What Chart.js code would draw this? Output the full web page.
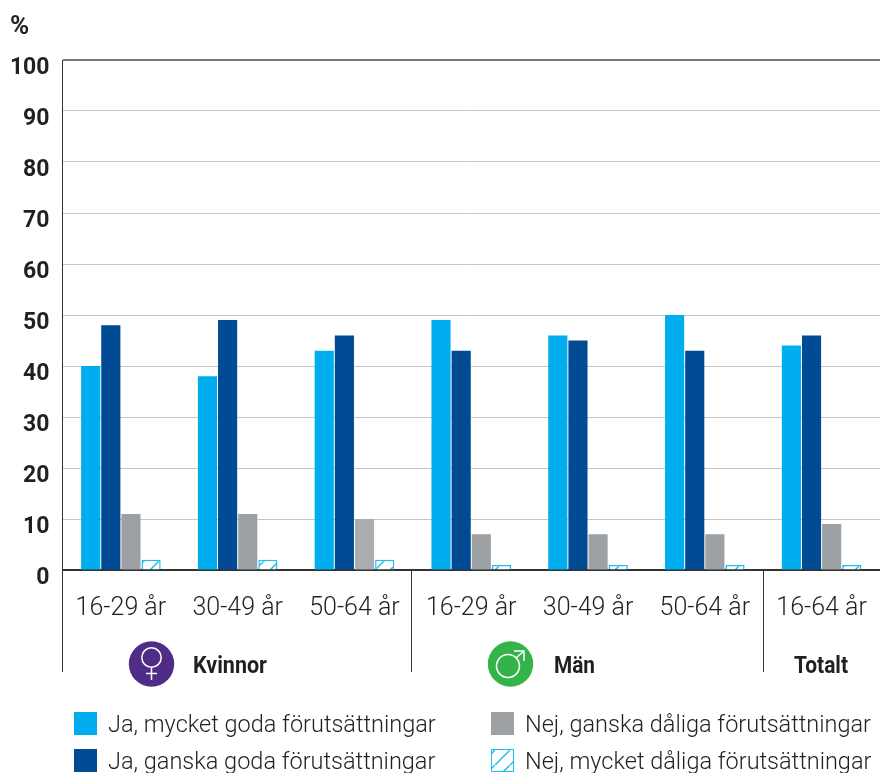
<!DOCTYPE html>
<html lang="sv">
<head>
<meta charset="utf-8">
<title>Förutsättningar</title>
<script src="https://cdn.jsdelivr.net/npm/chart.js@4"></script>
<style>
html, body { margin: 0; padding: 0; background: #fff; }
#wrap { width: 880px; height: 773px; }
</style>
</head>
<body>
<div id="wrap"><canvas id="chart" width="880" height="773"></canvas></div>
<script>
// Data
const categories = ['16-29 år', '30-49 år', '50-64 år', '16-29 år', '30-49 år', '50-64 år', '16-64 år'];
const mycketGoda = [40, 38, 43, 49, 46, 50, 44];
const ganskaGoda = [48, 49, 46, 43, 45, 43, 46];
const ganskaDaliga = [11, 11, 10, 7, 7, 7, 9];
const mycketDaliga = [2, 2, 2, 1, 1, 1, 1];
const seriesNames = [
    'Ja, mycket goda förutsättningar',
    'Ja, ganska goda förutsättningar',
    'Nej, ganska dåliga förutsättningar',
    'Nej, mycket dåliga förutsättningar'
];
const groupNames = ['Kvinnor', 'Män', 'Totalt'];

const TEXT = '#231f20';
const HATCH = '#1fbdf0';
const FONT = 'Roboto, "Liberation Sans", sans-serif';

// Diagonal hatch for the last series
function makeHatch() {
    const size = 15;
    const c = document.createElement('canvas');
    c.width = size;
    c.height = size;
    const g = c.getContext('2d');
    g.fillStyle = '#fff';
    g.fillRect(0, 0, size, size);
    g.strokeStyle = HATCH;
    g.lineWidth = 1.5;
    g.beginPath();
    g.moveTo(-2, size + 2);
    g.lineTo(size + 2, -2);
    g.stroke();
    return g.createPattern(c, 'repeat');
}
const hatch = makeHatch();

// Separators below the axis, group captions, gender icons, legend and the % sign
const decorations = {
    id: 'decorations',
    afterDraw(chart) {
        const ctx = chart.ctx;
        const x = chart.scales.x;
        const base = chart.chartArea.bottom;
        const step = x.getPixelForValue(1) - x.getPixelForValue(0);

        ctx.save();
        ctx.strokeStyle = '#333';
        ctx.lineWidth = 1;
        [[0, 0], [3, -1], [6, 0]].forEach(([i, nudge]) => {
            const px = Math.floor(x.getPixelForValue(i) - step / 2 + nudge) + 0.5;
            ctx.beginPath();
            ctx.moveTo(px, base);
            ctx.lineTo(px, 672);
            ctx.stroke();
        });

        // Group captions, squeezed to the condensed width of the original
        ctx.fillStyle = TEXT;
        ctx.textBaseline = 'alphabetic';
        ctx.textAlign = 'left';
        ctx.font = 'bold 23px ' + FONT;
        ctx.fillText(groupNames[0], 193, 673, 74);
        ctx.fillText(groupNames[1], 554, 673, 41);
        ctx.fillText(groupNames[2], 794, 673, 54);

        // Female icon
        ctx.fillStyle = '#4f2d87';
        ctx.beginPath();
        ctx.arc(151.5, 664, 22.7, 0, Math.PI * 2);
        ctx.fill();
        ctx.strokeStyle = '#fff';
        ctx.lineWidth = 1.5;
        ctx.beginPath();
        ctx.arc(151.5, 657.5, 9.7, 0, Math.PI * 2);
        ctx.moveTo(151.5, 667);
        ctx.lineTo(151.5, 680);
        ctx.moveTo(146, 673.5);
        ctx.lineTo(157, 673.5);
        ctx.stroke();

        // Male icon
        ctx.fillStyle = '#33b44a';
        ctx.beginPath();
        ctx.arc(510.5, 664, 22.7, 0, Math.PI * 2);
        ctx.fill();
        ctx.beginPath();
        ctx.arc(508, 666, 11.5, 0, Math.PI * 2);
        ctx.moveTo(516, 658);
        ctx.lineTo(524, 651);
        ctx.moveTo(514, 651);
        ctx.lineTo(524, 651);
        ctx.lineTo(524, 661);
        ctx.stroke();

        // Legend
        const slots = [[74, 712], [74, 749], [491, 712], [491, 749]];
        ctx.font = '300 23.5px ' + FONT;
        chart.data.datasets.forEach((ds, i) => {
            const [bx, by] = slots[i];
            const fill = Array.isArray(ds.backgroundColor) ? ds.backgroundColor[0] : ds.backgroundColor;
            ctx.fillStyle = fill;
            ctx.fillRect(bx, by, 23, 23);
            if (ds.borderWidth) {
                ctx.strokeStyle = ds.borderColor;
                ctx.lineWidth = 1;
                ctx.strokeRect(bx + 0.5, by + 0.5, 22, 22);
            }
            ctx.fillStyle = TEXT;
            ctx.fillText(ds.label, bx + 34, by + 20);
        });

        // Unit
        ctx.font = 'bold 26px ' + FONT;
        ctx.fillText('%', 10, 34);
        ctx.restore();
    }
};

function barSet(label, data, color, extra) {
    return Object.assign({
        label,
        data,
        backgroundColor: color,
        borderWidth: 0,
        categoryPercentage: 0.69,
        barPercentage: 0.95
    }, extra);
}

new Chart(document.getElementById('chart').getContext('2d'), {
    type: 'bar',
    data: {
        labels: categories,
        datasets: [
            barSet(seriesNames[0], mycketGoda, '#00aeef'),
            barSet(seriesNames[1], ganskaGoda, '#004b93'),
            barSet(seriesNames[2], ganskaDaliga, ['#9da1a4', '#9da1a4', '#abadb0', '#9da1a4', '#9da1a4', '#9da1a4', '#9da1a4']),
            barSet(seriesNames[3], mycketDaliga, hatch, { borderColor: HATCH, borderWidth: 1.5 })
        ]
    },
    plugins: [decorations],
    options: {
        responsive: false,
        animation: false,
        layout: { padding: { top: 60, right: 0, bottom: 0, left: 0 } },
        plugins: {
            legend: { display: false },
            title: { display: false },
            tooltip: { enabled: false }
        },
        scales: {
            x: {
                afterFit(scale) {
                    scale.height = 203;
                    // tick padding would otherwise pull the plot in from the right edge
                    scale.paddingLeft = 0;
                    scale.paddingRight = 0;
                },
                grid: { display: false, drawTicks: false },
                border: { display: true, color: '#333', width: 2 },
                ticks: {
                    color: TEXT,
                    padding: 24,
                    maxRotation: 0,
                    autoSkip: false,
                    font: { family: FONT, size: 25, weight: '300' }
                }
            },
            y: {
                min: 0,
                max: 100,
                afterFit(scale) { scale.width = 62.5; },
                grid: {
                    drawTicks: false,
                    color: ctx => (ctx.tick && ctx.tick.value === 100 ? '#777' : '#c6c6c6'),
                    lineWidth: ctx => (ctx.tick && ctx.tick.value === 100 ? 2 : 1)
                },
                border: { display: true, color: '#333', width: 1 },
                ticks: {
                    stepSize: 10,
                    color: TEXT,
                    padding: 13,
                    labelOffset: 8.5,
                    font: { family: FONT, size: 23, weight: 'bold' }
                }
            }
        }
    }
});
</script>
</body>
</html>
